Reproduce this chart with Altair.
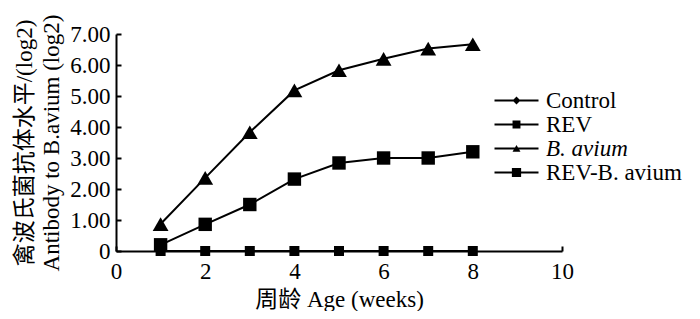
import altair as alt
import pandas as pd

weeks = [1, 2, 3, 4, 5, 6, 7, 8]
control = [0, 0, 0, 0, 0, 0, 0, 0]
rev = [0, 0, 0, 0, 0, 0, 0, 0]
b_avium = [0.87, 2.36, 3.83, 5.18, 5.83, 6.20, 6.53, 6.67]
rev_b_avium = [0.20, 0.86, 1.50, 2.32, 2.84, 3.00, 3.00, 3.20]

series = ["Control", "REV", "B. avium", "REV-B. avium"]
colors = ["#1c1c8f", "#000000", "#000000", "#000000"]
shapes = ["diamond", "square", "triangle-up", "square"]
sizes = [50, 100, 250, 180]
x_ticks = [0, 2, 4, 6, 8, 10]
y_ticks = [0, 1, 2, 3, 4, 5, 6, 7]
# legend glyphs: a short line (thin bar) with the series marker on it
legend_paths = [
    "M-2,-0.09H2V0.09H-2ZM0,-0.36L0.36,0L0,0.36L-0.36,0Z",
    "M-2,-0.09H2V0.09H-2ZM-0.36,-0.36H0.36V0.36H-0.36Z",
    "M-2,-0.09H2V0.09H-2ZM0,-0.32L0.36,0.3H-0.36Z",
    "M-2,-0.09H2V0.09H-2ZM-0.42,-0.42H0.42V0.42H-0.42Z",
]

rows = []
for name, vals in zip(series, [control, rev, b_avium, rev_b_avium]):
    for w, v in zip(weeks, vals):
        rows.append({"series": name, "week": w, "value": v})
df = pd.DataFrame(rows)

FONT = "Liberation Serif, 'Noto Sans CJK SC'"

xscale = alt.Scale(domain=[0, 10], nice=False)
yscale = alt.Scale(domain=[0, 7], nice=False)

x = alt.X("week:Q", scale=xscale,
          axis=alt.Axis(orient="bottom", values=x_ticks, title="周龄 Age (weeks)", ticks=False,
                        grid=False, labelFlush=False, labelPadding=9, titlePadding=5))
y = alt.Y("value:Q", scale=yscale,
          axis=alt.Axis(orient="left", values=y_ticks, ticks=False, labelPadding=6,
                        labelExpr="datum.value == 0 ? '0' : format(datum.value, '.2f')",
                        title=["禽波氏菌抗体水平/(log2)", "Antibody to B.avium (log2)"],
                        titlePadding=6, titleLineHeight=27,
                        grid=False, labelFlush=False))

cscale = alt.Scale(domain=series, range=colors)

lines = alt.Chart(df).mark_line(strokeWidth=2).encode(
    x=x, y=y,
    color=alt.Color("series:N", scale=cscale, legend=None),
)

points = alt.Chart(df).mark_point(filled=True, opacity=1).encode(
    x=x, y=y,
    color=alt.Color("series:N", scale=cscale, legend=None),
    shape=alt.Shape("series:N", scale=alt.Scale(domain=series, range=shapes), legend=None),
    size=alt.Size("series:O", sort=series,
                  scale=alt.Scale(type="ordinal", domain=series, range=sizes), legend=None),
)

leg = alt.Legend(orient="none", legendX=389, legendY=55, title=None,
                 labelFont=FONT, labelFontSize=23, labelColor="black",
                 labelFontStyle={"expr": "datum.label == 'B. avium' ? 'italic' : 'normal'"},
                 symbolSize=484, symbolStrokeWidth=0, symbolOpacity=1,
                 labelOffset=18, rowPadding=0)

# inward tick marks: a second pair of axes (ticks only) on the same scales
x_in = alt.X("week:Q", scale=xscale,
             axis=alt.Axis(orient="top", offset=-217, values=x_ticks, labels=False,
                           domain=False, title=None, grid=False, ticks=True,
                           tickSize=5, tickWidth=2, tickColor="black"))
y_in = alt.Y("value:Q", scale=yscale,
             axis=alt.Axis(orient="right", offset=-446, values=y_ticks, labels=False,
                           domain=False, title=None, grid=False, ticks=True,
                           tickSize=5, tickWidth=2, tickColor="black"))

legend_layer = alt.Chart(df).transform_filter("false").mark_point(filled=True).encode(
    x=x_in, y=y_in,
    shape=alt.Shape("series:N", scale=alt.Scale(domain=series, range=legend_paths), legend=leg),
    fill=alt.Fill("series:N", scale=alt.Scale(domain=series, range=colors), legend=leg),
)

data_layer = alt.layer(lines, points)

chart = alt.layer(data_layer, legend_layer).resolve_scale(
    shape="independent", x="independent", y="independent"
).properties(
    width=446, height=217,
    autosize=alt.AutoSizeParams(type="none"),
    padding={"left": 108, "top": 26, "right": 130, "bottom": 60},
    background="white",
).configure_view(stroke=None).configure_axis(
    domainColor="black", domainWidth=2,
    labelFont=FONT, labelFontSize=23, labelColor="black",
    titleFont=FONT, titleFontSize=23, titleColor="black", titleFontWeight="normal",
)

chart.save("out.html", embed_options={"renderer": "svg", "actions": False})
